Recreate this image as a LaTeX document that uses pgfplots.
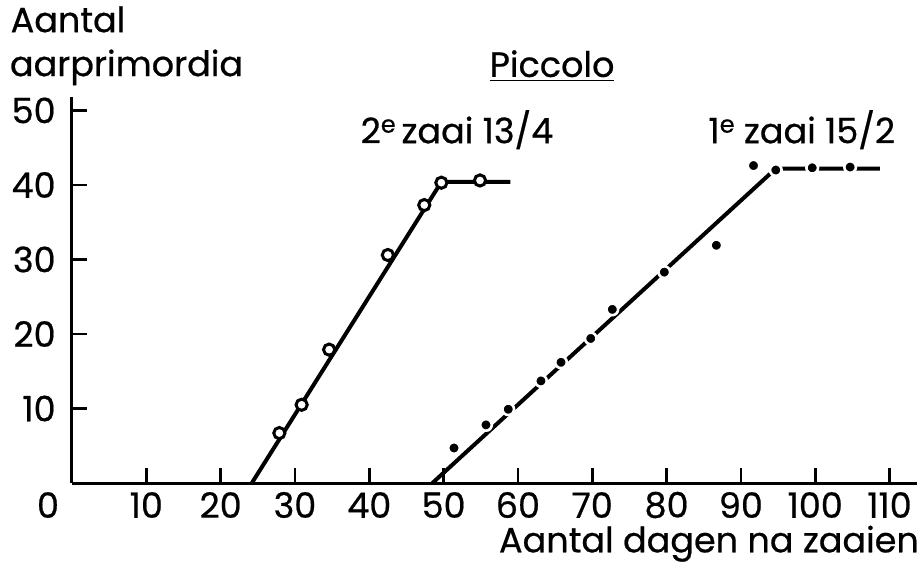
\documentclass[border=0pt]{standalone}
\usepackage{pgfplots}
\pgfplotsset{compat=1.18}
\usepackage{fontspec}
\setmainfont{Poppins}[FakeBold=0.6]
\newcommand{\supe}{\raisebox{0.55ex}{\fontsize{12}{12}\selectfont e}}

\begin{document}
\begin{tikzpicture}[font=\fontsize{17.5}{20}\selectfont]
\path[use as bounding box] (-36pt,-43.5pt) rectangle (426pt,241.5pt);
\begin{axis}[
  at={(0,0)}, anchor=south west,
  scale only axis, width=422.5pt, height=193pt,
  xmin=0, xmax=113.7, ymin=0, ymax=51.8,
  axis lines=left,
  axis line style={line width=1.5pt, -},
  xtick={10,20,...,110}, ytick={10,20,...,50},
  tick align=inside, major tick length=7.5pt,
  tick style={line width=1.3pt, black},
  xticklabel style={anchor=center, yshift=-11pt, inner sep=0pt},
  yticklabel style={anchor=east, xshift=-8pt, inner sep=0pt},
  /pgf/number format/assume math mode=true,
  clip=false,
]
% 2e zaai 13/4
\addplot[line width=2pt] coordinates {(24.2,0) (49.7,40.4) (59,40.4)};
\addplot[only marks, mark=*, mark size=2.8pt,
  mark options={fill=white, draw=black, line width=1.5pt}]
  coordinates {(27.9,6.7) (30.9,10.5) (34.6,17.9) (42.5,30.6) (47.4,37.3) (49.7,40.3) (54.9,40.6)};
% 1e zaai 15/2
\addplot[line width=2pt] coordinates {(48.5,0) (94.7,42.2) (108.7,42.2)};
\addplot[only marks, mark=*, mark size=2.9pt,
  mark options={fill=black, draw=white, line width=1.3pt}]
  coordinates {(51.4,4.7) (55.7,7.8) (58.7,9.9) (63.1,13.7) (65.8,16.2) (69.8,19.4)
    (72.7,23.3) (79.7,28.3) (86.7,31.9) (91.7,42.6) (94.7,42.0) (99.6,42.3) (104.7,42.4)};

\node[xshift=-12pt, yshift=-11pt] at (axis cs:0,0) {0};
\node[anchor=base] at (axis cs:64.6,54.5) {\underline{Piccolo}};
\node[anchor=base] at (axis cs:51.8,45.6) {2\supe\,zaai 13/4};
\node[anchor=base] at (axis cs:98.2,45.6) {1\supe{} zaai 15/2};
\node[anchor=base west, inner sep=0pt] at (axis cs:-8.3,60.5) {Aantal};
\node[anchor=base west, inner sep=0pt] at (axis cs:-8.4,54.6) {aarprimordia};
\node[anchor=base east, inner sep=0pt] at (axis cs:114.0,-9.3) {Aantal dagen na zaaien};
\end{axis}
\end{tikzpicture}
\end{document}
